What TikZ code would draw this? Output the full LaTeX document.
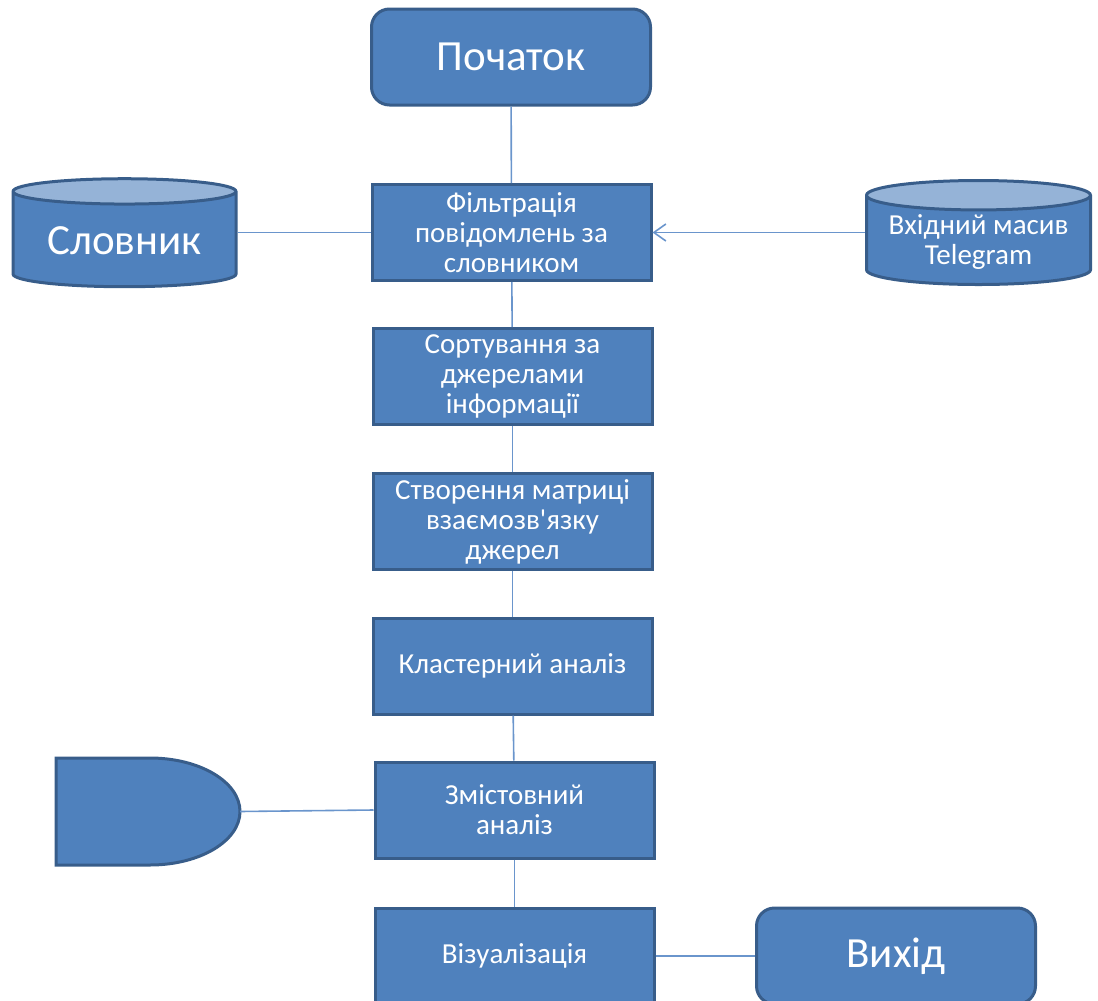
\documentclass[tikz,border=0pt]{standalone}
\usepackage{fontspec}
\setmainfont{Carlito}
\usepackage{tikz}
\usetikzlibrary{shapes,arrows,arrows.meta,positioning,calc}
\definecolor{boxblue}{HTML}{4F81BD}
\definecolor{boxedge}{HTML}{385D8A}
\definecolor{topblue}{HTML}{95B3D7}
\definecolor{linkblue}{HTML}{6A95CC}

\begin{document}
\begin{tikzpicture}[x=0.5pt,y=-0.5pt,
    procbox/.style={rectangle,draw=boxedge,line width=1.5pt,fill=boxblue,text=white,
      minimum width=139.5pt,minimum height=48pt,align=center,inner sep=1pt,
      font=\fontsize{14.5}{15}\selectfont},
    termbox/.style={procbox,rounded corners=9pt,font=\fontsize{21.5}{24}\selectfont},
    store/.style={cylinder,shape border rotate=90,aspect=0.16,draw=boxedge,line width=1.5pt,
      cylinder uses custom fill,cylinder body fill=boxblue,cylinder end fill=topblue,
      text=white,align=center,minimum width=111.5pt,minimum height=54pt,inner sep=1pt},
    link/.style={draw=linkblue,line width=0.8pt}]
  \useasboundingbox (0,0) rectangle (1098,1001);

  % Main column
  \node[termbox] (start) at (511,57) {Початок};
  \node[procbox] (filt) at (511.5,232.5) {Фільтрація\\повідомлень за\\словником};
  \node[procbox] (sort) at (512.5,376.5) {Сортування за\\джерелами\\інформації};
  \node[procbox] (matr) at (512.5,521.5) {Створення матриці\\взаємозв\textquotesingle язку\\джерел};
  \node[procbox] (clus) at (512.5,666) {Кластерний аналіз};
  \node[procbox] (cont) at (514.5,810) {Змістовний\\аналіз};
  \node[procbox] (vis) at (514.5,956) {Візуалізація};
  \node[termbox] (out) at (896,956) {Вихід};

  % Stores
  \node[store,font=\fontsize{21.5}{24}\selectfont] (dict) at (124.5,241) {Словник};
  \node[store,font=\fontsize{14.5}{15}\selectfont,minimum height=52pt,minimum width=112pt] (tg) at (978.5,242) {Вхідний масив\\Telegram};

  % Delay shape
  \draw[draw=boxedge,line width=1.5pt,fill=boxblue]
    (56,758) -- (150,758) arc[start angle=-90,end angle=90,x radius=90,y radius=53.5]
    -- (56,865) -- cycle;
  \coordinate (dtip) at (240,811.5);

  % Links
  \draw[link] (start) -- (filt);
  \draw[link] (filt) -- (sort);
  \draw[link] (sort) -- (matr);
  \draw[link] (matr) -- (clus);
  \draw[link] (clus) -- (cont);
  \draw[link] (cont) -- (vis);
  \draw[link] (vis) -- (out);
  \draw[link] (dict.east |- filt.west) -- (filt.west);
  \draw[link,-{Straight Barb[length=6pt,width=8.5pt]}] (tg.west |- filt.east) -- (filt.east);
  \draw[link] (dtip) -- (cont.west);
\end{tikzpicture}
\end{document}
